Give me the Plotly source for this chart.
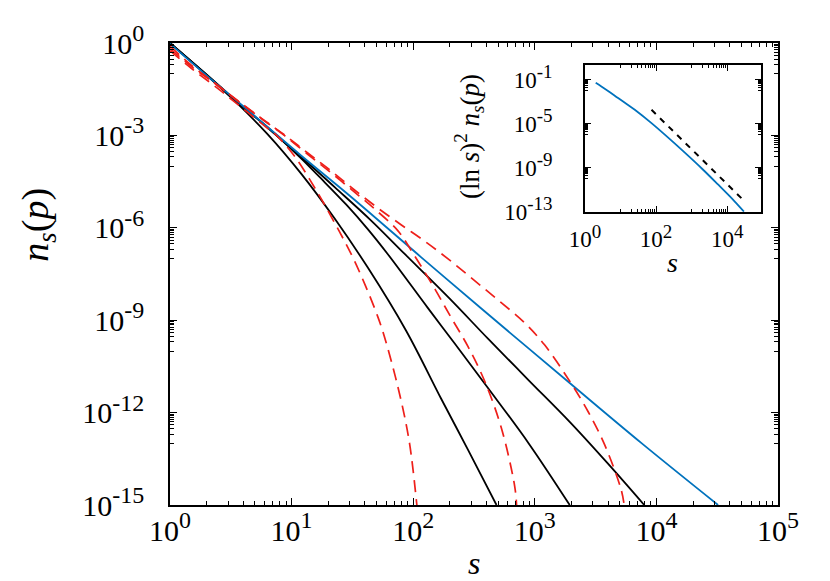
import numpy as np
import plotly.graph_objects as go

# log10 readings
blue_logs = [0, 0.25, 0.532, 0.8, 1.08, 1.49, 2.064, 2.56, 3.287, 3.88, 4.507]
blue_logn = [-0.02, -0.88, -1.82, -2.72, -3.66, -5.0, -6.95, -8.62, -11.04, -13.0, -15.0]

black3_logs = [0, 0.3, 0.532, 0.806, 1.08, 1.354, 1.65, 1.93, 2.3, 2.615, 2.95, 3.287, 3.6, 3.9]
black3_logn = [0, -1.02, -1.83, -2.76, -3.7, -4.68, -5.75, -6.85, -8.3, -9.6, -10.95, -12.3, -13.65, -15.0]

black2_logs = [0, 0.3, 0.532, 0.806, 1.08, 1.217, 1.45, 1.628, 1.79, 2.12, 2.34, 2.615, 2.95, 3.287]
black2_logn = [0, -1.03, -1.85, -2.75, -3.75, -4.3, -5.25, -6.05, -6.85, -8.6, -9.75, -11.2, -13.0, -15.0]

black1_logs = [0, 0.3, 0.532, 0.8, 1.08, 1.354, 1.628, 1.943, 2.23, 2.45, 2.685]
black1_logn = [0, -1.04, -1.88, -2.95, -4.25, -5.7, -7.3, -9.35, -11.55, -13.2, -15.0]

red3_logs = [0, 0.175, 0.368, 0.56, 0.75, 0.94, 1.135, 1.327, 1.52, 1.71, 1.90, 2.1, 2.3,
             2.5, 2.7, 2.92, 3.08, 3.287, 3.44, 3.575, 3.71, 3.735]
red3_logn = [-0.1, -0.72, -1.3, -1.88, -2.44, -2.98, -3.58, -4.16, -4.78, -5.36, -5.9, -6.45, -7.05,
             -7.7, -8.35, -9.1, -9.8, -10.98, -11.98, -13.05, -14.5, -15.0]

red2_logs = [0, 0.175, 0.368, 0.56, 0.75, 0.94, 1.135, 1.327, 1.52, 1.68, 1.875, 2.01, 2.18,
             2.31, 2.45, 2.59, 2.725, 2.835, 2.85]
red2_logn = [-0.18, -0.76, -1.31, -1.89, -2.45, -3.0, -3.62, -4.22, -4.85, -5.38, -6.1, -6.9, -8.0,
             -8.9, -9.85, -11.0, -12.5, -14.4, -15.0]

red1_logs = [0, 0.175, 0.368, 0.56, 0.78, 0.876, 1.025, 1.19, 1.354, 1.52, 1.71, 1.79, 1.90, 1.97, 2.03]
red1_logn = [-0.25, -0.82, -1.4, -2.0, -2.7, -3.0, -3.68, -4.7, -5.84, -7.1, -8.9, -9.9, -11.6, -13.0, -15.0]

inset_logs = [0.301, 0.46, 0.7, 0.93, 1.2, 1.4, 1.87, 2.3, 2.8, 3.3, 3.74, 4.2, 4.47]
inset_logy = [-1.3, -1.62, -2.15, -2.68, -3.28, -3.74, -4.95, -6.15, -7.6, -9.1, -10.5, -12.0, -12.95]

guide_logs = [1.87, 4.45]
guide_logy = [-3.74, -11.9]

main_xticks = [0, 1, 2, 3, 4, 5]
main_yticks = [0, -3, -6, -9, -12, -15]
inset_xticks = [0, 2, 4]
inset_yticks = [-1, -5, -9, -13]

BLUE = "#0072bd"
RED = "#ee1f1a"
FONT = "Liberation Serif, Times New Roman, Times, DejaVu Serif, serif"


def p10(a):
    return 10.0 ** np.array(a)


def lbl(e, sup_px):
    return f"10<sup><span style='font-size:{sup_px}px'>{e}</span></sup>"


fig = go.Figure()

for xs, ys in [(black1_logs, black1_logn), (black2_logs, black2_logn), (black3_logs, black3_logn)]:
    fig.add_trace(go.Scatter(x=p10(xs), y=p10(ys), mode="lines",
                             line=dict(color="black", width=1.8, shape="spline")))

fig.add_trace(go.Scatter(x=p10(blue_logs), y=p10(blue_logn), mode="lines",
                         line=dict(color=BLUE, width=1.8, shape="spline")))

for xs, ys in [(red1_logs, red1_logn), (red2_logs, red2_logn), (red3_logs, red3_logn)]:
    fig.add_trace(go.Scatter(x=p10(xs), y=p10(ys), mode="lines",
                             line=dict(color=RED, width=1.7, dash="12px,7px", shape="spline")))

# inset
fig.add_trace(go.Scatter(x=p10(inset_logs), y=p10(inset_logy), mode="lines", xaxis="x2", yaxis="y2",
                         line=dict(color=BLUE, width=1.8, shape="spline")))
fig.add_trace(go.Scatter(x=p10(guide_logs), y=p10(guide_logy), mode="lines", xaxis="x2", yaxis="y2",
                         line=dict(color="black", width=2, dash="6px,6px")))

x_minor = [k * 10.0 ** d for d in range(0, 5) for k in range(2, 10)]
y_minor = [k * 10.0 ** (m - 1) for m in main_yticks[:-1] for k in range(1, 10)]
ix_minor = [k * 10.0 ** (m + 1) for m in [0, 2] for k in range(1, 10)]
iy_minor = [k * 10.0 ** (m - 1) for m in inset_yticks for k in range(1, 10)]

axis_common = dict(type="log", showgrid=False, zeroline=False, showline=True, linecolor="black",
                   linewidth=1.6, mirror="allticks", ticks="inside", tickcolor="black", tickwidth=1,
                   tickmode="array")

fig.update_layout(
    width=830, height=581,
    margin=dict(l=162, r=60, t=35, b=84),
    plot_bgcolor="white", paper_bgcolor="white",
    showlegend=False,
    font=dict(family=FONT, color="black"),
    xaxis=dict(axis_common, range=[0, 5], ticklen=7,
               tickvals=list(p10(main_xticks)), ticktext=[lbl(e, 24) for e in main_xticks],
               tickfont=dict(family=FONT, size=30), ticklabelstandoff=-2,
               minor=dict(tickmode="array", tickvals=x_minor, ticks="inside", ticklen=4, tickcolor="black")),
    yaxis=dict(axis_common, range=[-15, 0], ticklen=7,
               tickvals=list(p10(main_yticks)), ticktext=[lbl(e, 24) for e in main_yticks],
               tickfont=dict(family=FONT, size=30), ticklabelstandoff=18,
               minor=dict(tickmode="array", tickvals=y_minor, ticks="inside", ticklen=4, tickcolor="black")),
    xaxis2=dict(axis_common, range=[0, 4.95], ticklen=6, domain=[0.6826, 0.972], anchor="y2",
                tickvals=list(p10(inset_xticks)), ticktext=[lbl(e, 19) for e in inset_xticks],
                tickfont=dict(family=FONT, size=23), ticklabelstandoff=6,
                minor=dict(tickmode="array", tickvals=ix_minor, ticks="inside", ticklen=3, tickcolor="black")),
    yaxis2=dict(axis_common, range=[-13, 0.3], ticklen=6, domain=[0.634, 0.952], anchor="x2",
                tickvals=list(p10(inset_yticks)), ticktext=[lbl(e, 19) for e in inset_yticks],
                tickfont=dict(family=FONT, size=23), ticklabelstandoff=26,
                minor=dict(tickmode="array", tickvals=iy_minor, ticks="inside", ticklen=3, tickcolor="black")),
    annotations=[
        dict(text="<i>n<sub>s</sub></i>(<i>p</i>)", x=-0.217, y=0.607, xref="paper", yref="paper",
             xanchor="center", yanchor="middle", showarrow=False, textangle=-90,
             font=dict(family=FONT, size=38)),
        dict(text="<i>s</i>", x=0.5, y=-0.125, xref="paper", yref="paper",
             xanchor="center", yanchor="middle", showarrow=False, font=dict(family=FONT, size=32)),
        dict(text="(ln <i>s</i>)<sup>2</sup> <i>n<sub>s</sub></i>(<i>p</i>)", x=0.492, y=0.797,
             xref="paper", yref="paper", xanchor="center", yanchor="middle", showarrow=False,
             textangle=-90, font=dict(family=FONT, size=27)),
        dict(text="<i>s</i>", x=0.827, y=0.524, xref="paper", yref="paper",
             xanchor="center", yanchor="middle", showarrow=False, font=dict(family=FONT, size=28)),
    ],
)

fig.write_html("out.html")
